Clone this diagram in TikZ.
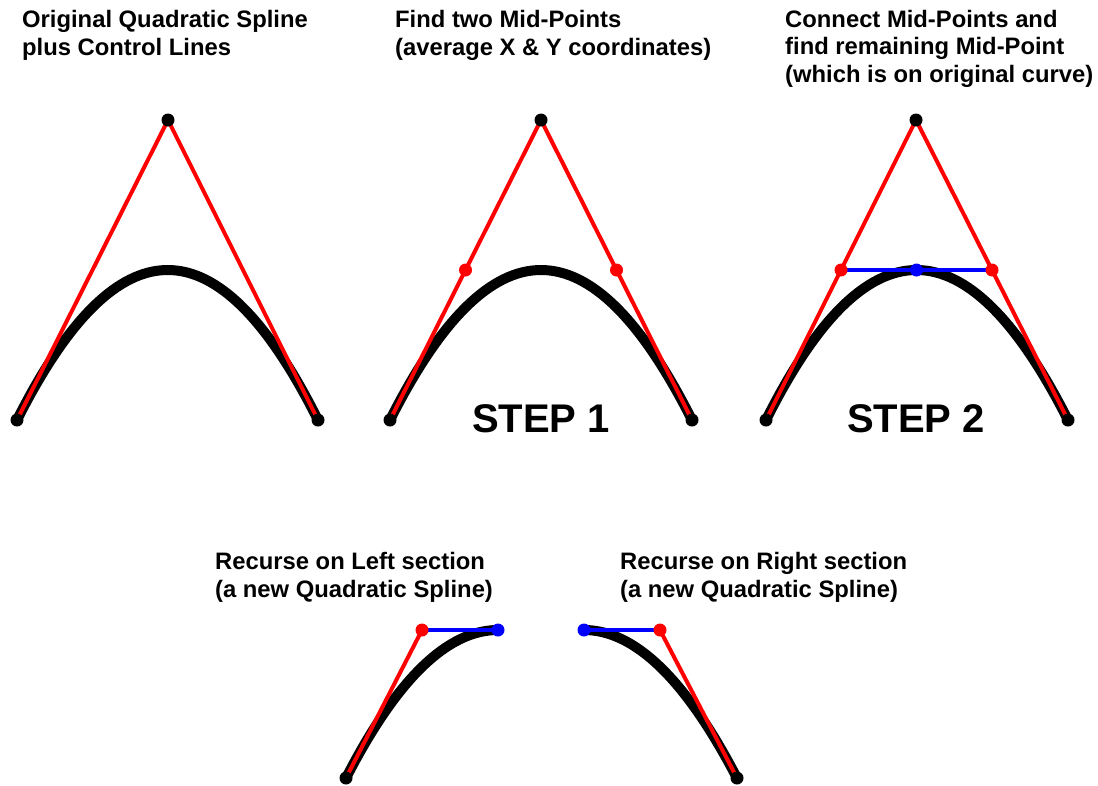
\documentclass[tikz,border=0pt]{standalone}
\usepackage{fontspec}
\setmainfont{Liberation Sans}
\usetikzlibrary{calc}
\tikzset{
  curveline/.style={line width=10pt, black},
  ctrlline/.style={line width=4pt, red},
  midline/.style={line width=4.5pt, blue},
  dotblk/.style={circle, fill=black, inner sep=0pt, minimum size=13pt},
  dotred/.style={circle, fill=red, inner sep=0pt, minimum size=13pt},
  dotblu/.style={circle, fill=blue, inner sep=0pt, minimum size=13pt},
  title/.style={anchor=base west, align=left, inner sep=0pt, font=\fontsize{23.8}{27.3}\selectfont\bfseries},
  steplabel/.style={anchor=base, inner sep=0pt, font=\fontsize{40}{44}\selectfont\bfseries}
}
\begin{document}
\begin{tikzpicture}[x=1pt, y=-1pt]
\useasboundingbox (0,0) rectangle (1098,785);
% ---- coordinates
% panel 1
\coordinate (a0) at (17,420); \coordinate (a1) at (168,120); \coordinate (a2) at (318,420);
% panel 2
\coordinate (b0) at (390,420); \coordinate (b1) at (541,120); \coordinate (b2) at (692,420);
% panel 3
\coordinate (c0) at (766,420); \coordinate (c1) at (916,120); \coordinate (c2) at (1068,420);
% bottom left
\coordinate (l0) at (346,778); \coordinate (l1) at (422,630); \coordinate (l2) at (498,630);
% bottom right
\coordinate (r0) at (584,630); \coordinate (r1) at (660,630); \coordinate (r2) at (737,778);

% ---- curves (quadratic as cubic)
\foreach \p in {a,b,c,l,r}{
  \draw[curveline] (\p0) .. controls ($(\p0)!2/3!(\p1)$) and ($(\p2)!2/3!(\p1)$) .. (\p2);
}
% ---- control lines
\draw[ctrlline] (a0) -- (a1) -- (a2);
\draw[ctrlline] (b0) -- (b1) -- (b2);
\draw[ctrlline] (c0) -- (c1) -- (c2);
\draw[ctrlline] (l0) -- (l1);
\draw[ctrlline] (r1) -- (r2);
% ---- mid lines
\coordinate (cm1) at ($(c0)!0.5!(c1)$);
\coordinate (cm2) at ($(c1)!0.5!(c2)$);
\coordinate (cmc) at ($(cm1)!0.5!(cm2)$);
\draw[midline] (cm1) -- (cm2);
\draw[midline] (l1) -- (l2);
\draw[midline] (r0) -- (r1);

% ---- dots
\node[dotblk] (A0) at (a0) {}; \node[dotblk] (A1) at (a1) {}; \node[dotblk] (A2) at (a2) {};
\node[dotblk] (B0) at (b0) {}; \node[dotblk] (B1) at (b1) {}; \node[dotblk] (B2) at (b2) {};
\node[dotred] (BM1) at ($(b0)!0.5!(b1)$) {}; \node[dotred] (BM2) at ($(b1)!0.5!(b2)$) {};
\node[dotblk] (C0) at (c0) {}; \node[dotblk] (C1) at (c1) {}; \node[dotblk] (C2) at (c2) {};
\node[dotred] (CM1) at (cm1) {}; \node[dotred] (CM2) at (cm2) {};
\node[dotblu] (CMC) at (cmc) {};
\node[dotblk] (L0) at (l0) {}; \node[dotred] (L1) at (l1) {}; \node[dotblu] (L2) at (l2) {};
\node[dotblu] (R0) at (r0) {}; \node[dotred] (R1) at (r1) {}; \node[dotblk] (R2) at (r2) {};

% ---- texts (anchored at the baseline of their last line)
\node[title] (t1) at (22,55) {Original Quadratic Spline\\plus Control Lines};
\node[title] (t2) at (395,55) {Find two Mid-Points\\(average X \& Y coordinates)};
\node[title] (t3) at (785,82) {Connect Mid-Points and\\find remaining Mid-Point\\(which is on original curve)};
\node[steplabel] (s1) at (541,432) {STEP 1};
\node[steplabel] (s2) at (916,432) {STEP 2};
\node[title] (t4) at (215,597) {Recurse on Left section\\(a new Quadratic Spline)};
\node[title] (t5) at (620,597) {Recurse on Right section\\(a new Quadratic Spline)};
\end{tikzpicture}
\end{document}
